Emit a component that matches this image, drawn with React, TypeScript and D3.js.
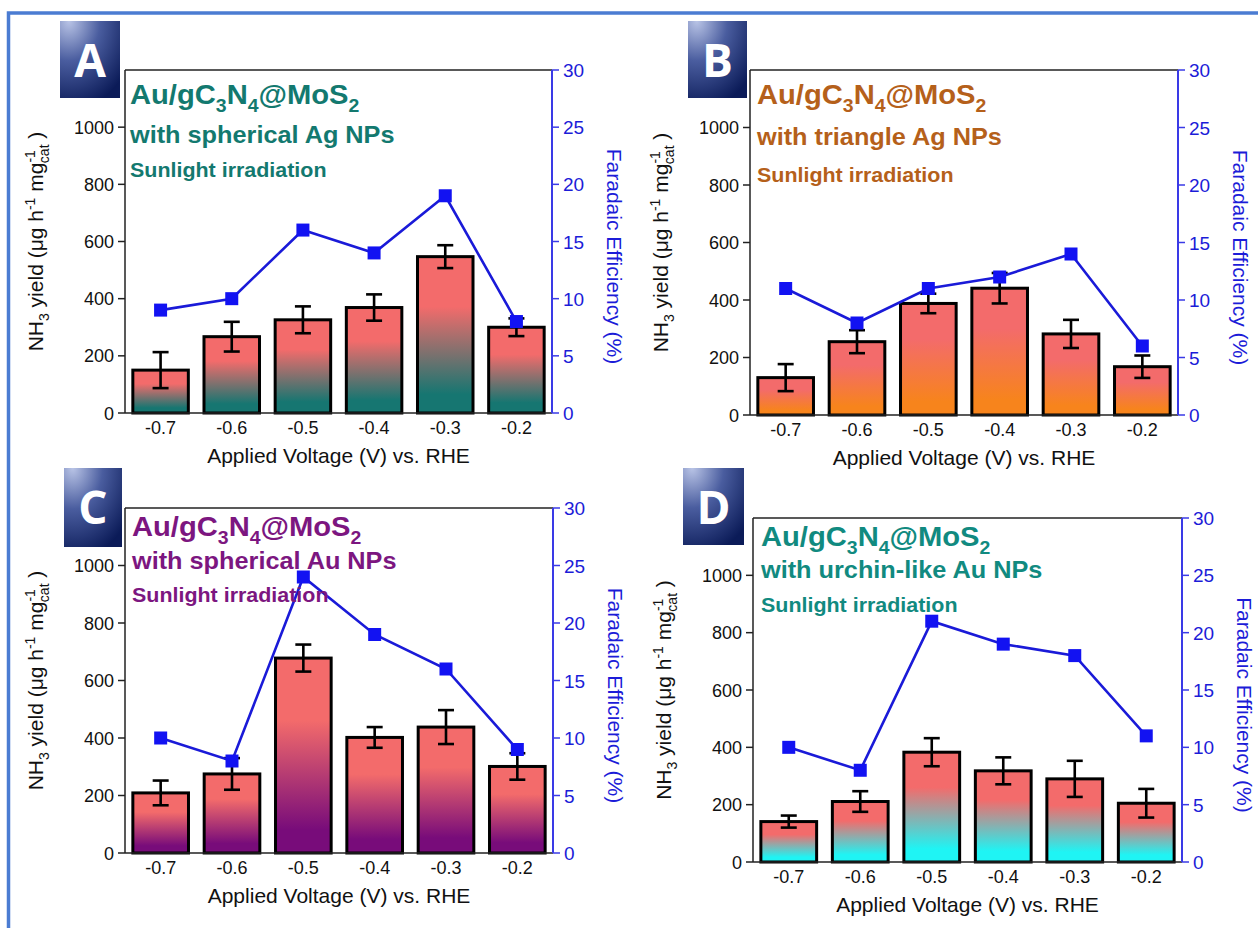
import React from "react";
import * as d3 from "d3";

// Applied potentials (V vs. RHE)
const voltages = ["-0.7", "-0.6", "-0.5", "-0.4", "-0.3", "-0.2"];
const yieldTicks = [0, 200, 400, 600, 800, 1000];
const feTicks = [0, 5, 10, 15, 20, 25, 30];

// Panel A: Au/gC3N4@MoS2 with spherical Ag NPs
const yieldA = [150, 267, 326, 369, 547, 300];
const errA = [63, 52, 47, 46, 40, 31];
const feA = [9, 10, 16, 14, 19, 8];

// Panel B: Au/gC3N4@MoS2 with triangle Ag NPs
const yieldB = [130, 255, 388, 441, 282, 168];
const errB = [47, 40, 34, 53, 49, 39];
const feB = [11, 8, 11, 12, 14, 6];

// Panel C: Au/gC3N4@MoS2 with spherical Au NPs
const yieldC = [209, 275, 678, 402, 438, 301];
const errC = [43, 55, 47, 36, 59, 46];
const feC = [10, 8, 24, 19, 16, 9];

// Panel D: Au/gC3N4@MoS2 with urchin-like Au NPs
const yieldD = [141, 211, 383, 318, 290, 205];
const errD = [21, 36, 49, 47, 63, 50];
const feD = [10, 8, 21, 19, 18, 11];

const BAR_TOP = "#f36b6b";
const FE_BLUE = "#1212f2";
const AXIS_BLUE = "#3a3ae6";

type Frame = { l: number; r: number; t: number; b: number };
type Panel = {
  letter: string;
  yields: number[];
  errs: number[];
  fe: number[];
  subtitle: string;
  textColor: string;
  barBottom: string;
  frame: Frame;
  box: { x: number; y: number; w: number; h: number };
  titleX: number;
  titleY: number[];
};

const panels: Panel[] = [
  {
    letter: "A", yields: yieldA, errs: errA, fe: feA,
    subtitle: "with spherical Ag NPs", textColor: "#13796f", barBottom: "#167671",
    frame: { l: 125, r: 552, t: 70, b: 413 },
    box: { x: 60, y: 21, w: 60, h: 77 }, titleX: 130, titleY: [104, 143, 177],
  },
  {
    letter: "B", yields: yieldB, errs: errB, fe: feB,
    subtitle: "with triangle Ag NPs", textColor: "#b5601a", barBottom: "#f7841c",
    frame: { l: 750, r: 1178, t: 70, b: 415 },
    box: { x: 688, y: 21, w: 59, h: 77 }, titleX: 757, titleY: [104, 145, 182],
  },
  {
    letter: "C", yields: yieldC, errs: errC, fe: feC,
    subtitle: "with spherical Au NPs", textColor: "#7c1680", barBottom: "#780c7a",
    frame: { l: 125, r: 553, t: 508, b: 853 },
    box: { x: 64, y: 468, w: 58, h: 79 }, titleX: 132, titleY: [536, 569, 602],
  },
  {
    letter: "D", yields: yieldD, errs: errD, fe: feD,
    subtitle: "with urchin-like Au NPs", textColor: "#118a80", barBottom: "#1ff4f4",
    frame: { l: 753, r: 1182, t: 518, b: 862 },
    box: { x: 683, y: 468, w: 61, h: 77 }, titleX: 761, titleY: [546, 578, 612],
  },
];

const SANS = "'Liberation Sans', Arial, sans-serif";

function ChartPanel({ p }: { p: Panel }) {
  const { frame } = p;
  const x = d3.scaleBand<string>().domain(voltages).range([frame.l, frame.r]).paddingInner(0.22).paddingOuter(0.11);
  const y = d3.scaleLinear().domain([0, 1200]).range([frame.b, frame.t]);
  const yFe = d3.scaleLinear().domain([0, 30]).range([frame.b, frame.t]);
  const cx = (v: string) => (x(v) as number) + x.bandwidth() / 2;
  const line = d3.line<number>().x((_, i) => cx(voltages[i])).y((d) => yFe(d));
  const gid = `barGrad${p.letter}`;
  const bid = `boxGrad${p.letter}`;
  const midY = (frame.t + frame.b) / 2;
  const capHalf = 8;
  const markerSize = 13;

  return (
    <g>
      <defs>
        <linearGradient id={gid} x1="0" y1="0" x2="0" y2="1">
          <stop offset="0" stopColor={BAR_TOP} />
          <stop offset="0.32" stopColor={BAR_TOP} />
          <stop offset="0.88" stopColor={p.barBottom} />
          <stop offset="1" stopColor={p.barBottom} />
        </linearGradient>
        <radialGradient id={bid} cx="0.15" cy="0" r="1.15" fx="0.15" fy="0">
          <stop offset="0" stopColor="#b9c4e6" />
          <stop offset="0.45" stopColor="#4a5d9f" />
          <stop offset="1" stopColor="#0b1b58" />
        </radialGradient>
      </defs>

      {/* panel letter tile */}
      <rect x={p.box.x} y={p.box.y} width={p.box.w} height={p.box.h} fill={`url(#${bid})`} />
      <text x={p.box.x + p.box.w / 2} y={p.box.y + 56} textAnchor="middle" fill="#fff"
        fontFamily="'Open Sans', sans-serif" fontWeight={700} fontSize={46}>{p.letter}</text>

      {/* bars */}
      {p.yields.map((v, i) => (
        <rect key={`b${i}`} x={x(voltages[i])} y={y(v)} width={x.bandwidth()} height={frame.b - y(v)}
          fill={`url(#${gid})`} stroke="#000" strokeWidth={3} />
      ))}

      {/* error bars */}
      {p.yields.map((v, i) => {
        const c = cx(voltages[i]);
        const hi = y(v + p.errs[i]);
        const lo = y(v - p.errs[i]);
        return (
          <g key={`e${i}`} stroke="#000" strokeWidth={2.6}>
            <line x1={c} x2={c} y1={hi} y2={lo} />
            <line x1={c - capHalf} x2={c + capHalf} y1={hi} y2={hi} />
            <line x1={c - capHalf} x2={c + capHalf} y1={lo} y2={lo} />
          </g>
        );
      })}

      {/* frame: top and left black, right axis blue */}
      <line x1={frame.l} x2={frame.r} y1={frame.t} y2={frame.t} stroke="#222" strokeWidth={1.5} />
      <line x1={frame.l} x2={frame.l} y1={frame.t} y2={frame.b} stroke="#222" strokeWidth={1.5} />
      <line x1={frame.l} x2={frame.r} y1={frame.b} y2={frame.b} stroke="#222" strokeWidth={1.5} />
      <line x1={frame.r} x2={frame.r} y1={frame.t} y2={frame.b} stroke={AXIS_BLUE} strokeWidth={2} />

      {/* left axis ticks */}
      {yieldTicks.map((t) => (
        <g key={`yl${t}`}>
          <line x1={frame.l - 7} x2={frame.l} y1={y(t)} y2={y(t)} stroke="#222" strokeWidth={1.5} />
          <text x={frame.l - 11} y={y(t) + 6.5} textAnchor="end" fontFamily={SANS} fontSize={18} fill="#111">{t}</text>
        </g>
      ))}

      {/* right axis ticks */}
      {feTicks.map((t) => (
        <g key={`yr${t}`}>
          <line x1={frame.r} x2={frame.r + 7} y1={yFe(t)} y2={yFe(t)} stroke={AXIS_BLUE} strokeWidth={1.5} />
          <text x={frame.r + 11} y={yFe(t) + 7} fontFamily={SANS} fontSize={19} fill="#1c1cd8">{t}</text>
        </g>
      ))}

      {/* x tick labels */}
      {voltages.map((v) => (
        <text key={`x${v}`} x={cx(v)} y={frame.b + 21} textAnchor="middle" fontFamily={SANS} fontSize={18} fill="#111">{v}</text>
      ))}

      {/* axis titles */}
      <text x={(frame.l + frame.r) / 2} y={frame.b + 50} textAnchor="middle" fontFamily={SANS} fontSize={21} fill="#111">
        Applied Voltage (V) vs. RHE
      </text>
      <text transform={`translate(${frame.l - 82},${midY}) rotate(-90)`} textAnchor="middle" fontFamily={SANS} fontSize={21} fill="#111">
        NH<tspan fontSize={14} dy={6}>3</tspan>
        <tspan dy={-6}> yield (μg h</tspan>
        <tspan fontSize={14} dy={-8}>-1</tspan>
        <tspan dy={8}> mg</tspan>
        <tspan fontSize={14} dy={-8}>-1</tspan>
        <tspan fontSize={14} dx={-13} dy={14}>cat</tspan>
        <tspan dy={-6}> )</tspan>
      </text>
      <text transform={`translate(${frame.r + 55},${midY + 15}) rotate(90)`} textAnchor="middle" fontFamily={SANS} fontSize={21} fill="#1c1cd8">
        Faradaic Efficiency (%)
      </text>

      {/* Faradaic efficiency series */}
      <path d={line(p.fe) ?? ""} fill="none" stroke="#1a1ad8" strokeWidth={2.6} />
      {p.fe.map((f, i) => (
        <rect key={`m${i}`} x={cx(voltages[i]) - markerSize / 2} y={yFe(f) - markerSize / 2}
          width={markerSize} height={markerSize} fill={FE_BLUE} />
      ))}

      {/* sample description */}
      <g fontFamily={SANS} fontWeight={700} fill={p.textColor}>
        <g transform={`translate(${p.titleX},${p.titleY[0]}) scale(1.08,1)`}>
          <text x={0} y={0} fontSize={27}>
            Au/gC<tspan fontSize={18} dy={8}>3</tspan>
            <tspan dy={-8}>N</tspan>
            <tspan fontSize={18} dy={8}>4</tspan>
            <tspan dy={-8}>@MoS</tspan>
            <tspan fontSize={18} dy={8}>2</tspan>
          </text>
        </g>
        <g transform={`translate(${p.titleX},${p.titleY[1]}) scale(1.1,1)`}>
          <text x={0} y={0} fontSize={23}>{p.subtitle}</text>
        </g>
        <g transform={`translate(${p.titleX},${p.titleY[2]}) scale(1.1,1)`}>
          <text x={0} y={0} fontSize={19.5}>Sunlight irradiation</text>
        </g>
      </g>
    </g>
  );
}

export default function App() {
  return (
    <svg width={1258} height={928} viewBox="0 0 1258 928"
      style={{ position: "absolute", left: 0, top: 0, background: "#fff", display: "block" }}>
      <rect x={0} y={0} width={1258} height={928} fill="#fff" />
      <rect x={8.5} y={13} width={1262} height={930} fill="none" stroke="#4b7cd2" strokeWidth={3.5} />
      {panels.map((p) => (
        <ChartPanel key={p.letter} p={p} />
      ))}
    </svg>
  );
}
